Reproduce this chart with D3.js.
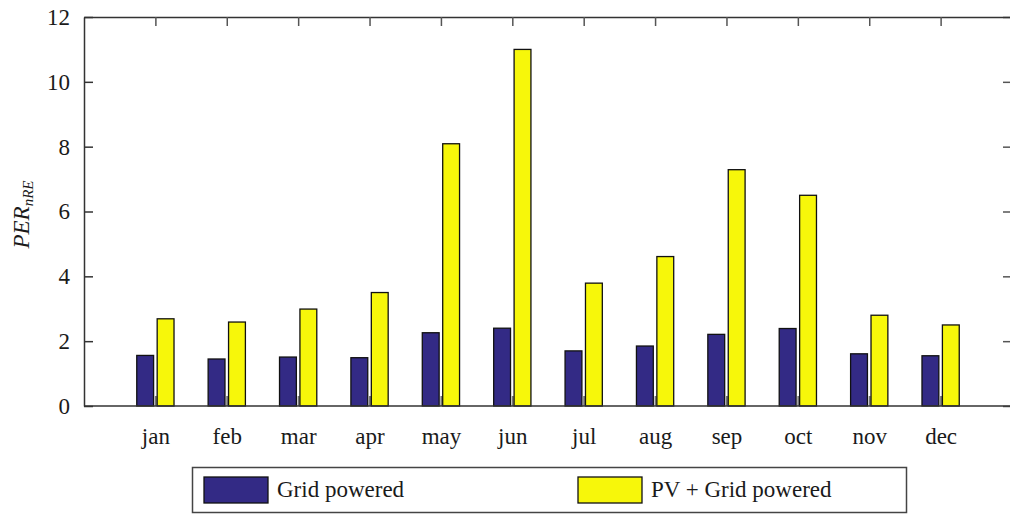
<!DOCTYPE html>
<html>
<head>
<meta charset="utf-8">
<script src="https://cdn.jsdelivr.net/npm/d3@7"></script>
<style>
  html, body { margin: 0; padding: 0; background: #fff; }
  svg { display: block; }
</style>
</head>
<body>
<svg id="chart" width="1010" height="516"></svg>
<script>
// Monthly primary energy ratio (non-renewable)
const months = ["jan", "feb", "mar", "apr", "may", "jun", "jul", "aug", "sep", "oct", "nov", "dec"];
const gridPowered = [1.56, 1.45, 1.51, 1.49, 2.26, 2.40, 1.70, 1.85, 2.21, 2.39, 1.61, 1.55];
const pvGridPowered = [2.69, 2.59, 2.99, 3.50, 8.09, 11.0, 3.79, 4.61, 7.29, 6.50, 2.80, 2.50];
const yTicks = [0, 2, 4, 6, 8, 10, 12];
const seriesNames = ["Grid powered", "PV + Grid powered"];
const seriesColors = ["#332a85", "#f7f70a"];

const FONT = "'Liberation Serif', 'Times New Roman', Times, serif";
const textColor = "#1a1a1a";

const svg = d3.select("#chart");

const plotLeft = 84, plotRight = 1012, plotTop = 17, plotBottom = 406;

// Categories sit at 1..12 on a 0..13 numeric axis
const x = d3.scaleLinear().domain([0, 13]).range([plotLeft, plotRight]);
const y = d3.scaleLinear().domain([0, 12]).range([plotBottom, plotTop]);

const barW = 0.236;   // width of one bar, in category units
const barOff = 0.143; // distance of each bar's centre from the category centre

const series = [gridPowered, pvGridPowered];

function styleText(sel, size) {
  sel.attr("font-family", FONT)
    .style("font-family", FONT)
    .style("font-size", size + "px")
    .attr("fill", textColor);
}

// Bottom axis ticks (inward, drawn first so the bars overlap them)
const bottomAxis = d3.axisBottom(x)
  .tickValues(d3.range(1, 13))
  .tickFormat((d) => months[d - 1])
  .tickSizeInner(-10)
  .tickSizeOuter(0)
  .tickPadding(22);
const gb = svg.append("g").attr("transform", `translate(0,${plotBottom})`).call(bottomAxis);
gb.attr("font-family", FONT);
gb.select(".domain").remove();
gb.selectAll(".tick line").attr("stroke", "#777").attr("stroke-width", 2);
gb.selectAll(".tick text").call(styleText, 23).attr("dy", "0.71em");

// Bars
series.forEach((vals, si) => {
  svg.append("g")
    .selectAll("rect")
    .data(vals)
    .join("rect")
    .attr("x", (d, i) => x(i + 1 + (si === 0 ? -barOff : barOff) - barW / 2))
    .attr("y", (d) => y(d))
    .attr("width", x(barW) - x(0))
    .attr("height", (d) => y(0) - y(d))
    .attr("fill", seriesColors[si])
    .attr("stroke", "#111")
    .attr("stroke-width", 1.3);
});

// Left axis with labels
const leftAxis = d3.axisLeft(y)
  .tickValues(yTicks)
  .tickSizeInner(-9)
  .tickSizeOuter(0)
  .tickPadding(14);
const gl = svg.append("g").attr("transform", `translate(${plotLeft},0)`).call(leftAxis);
gl.attr("font-family", FONT);
gl.select(".domain").attr("stroke", "#333").attr("stroke-width", 1.5);
gl.selectAll(".tick line").attr("stroke", "#333").attr("stroke-width", 1.5);
gl.selectAll(".tick text").call(styleText, 23);

// Right axis: ticks only, pointing inward
const rightAxis = d3.axisRight(y)
  .tickValues(yTicks)
  .tickSizeInner(-9)
  .tickSizeOuter(0)
  .tickFormat("");
const gr = svg.append("g").attr("transform", `translate(${plotRight},0)`).call(rightAxis);
gr.select(".domain").attr("stroke", "#333").attr("stroke-width", 1.5);
gr.selectAll(".tick line").attr("stroke", "#555").attr("stroke-width", 1.5);

// Top axis: ticks at each category, pointing inward
const topAxis = d3.axisTop(x)
  .tickValues(d3.range(1, 13))
  .tickSizeInner(-9)
  .tickSizeOuter(0)
  .tickFormat("");
const gt = svg.append("g").attr("transform", `translate(0,${plotTop})`).call(topAxis);
gt.select(".domain").attr("stroke", "#333").attr("stroke-width", 1.5);
gt.selectAll(".tick line").attr("stroke", "#555").attr("stroke-width", 1.5);

// Baseline
svg.append("line")
  .attr("x1", plotLeft).attr("x2", plotRight)
  .attr("y1", y(0)).attr("y2", y(0))
  .attr("stroke", "#333").attr("stroke-width", 1.5);

// Y axis title: PER with subscript nRE
const yTitle = svg.append("text")
  .attr("transform", `translate(29,${(plotTop + plotBottom) / 2 + 3}) rotate(-90)`)
  .attr("text-anchor", "middle")
  .call(styleText, 23)
  .style("font-style", "italic");
yTitle.append("tspan").text("PER");
yTitle.append("tspan").attr("dy", 4).style("font-size", "15px").text("nRE");

// Legend
const legend = svg.append("g");
legend.append("rect")
  .attr("x", 192.5).attr("y", 467.5)
  .attr("width", 714).attr("height", 45)
  .attr("fill", "#fff")
  .attr("stroke", "#444")
  .attr("stroke-width", 1.5);

const legendX = [204, 578];
seriesNames.forEach((name, i) => {
  legend.append("rect")
    .attr("x", legendX[i]).attr("y", 477)
    .attr("width", 64).attr("height", 26)
    .attr("fill", seriesColors[i])
    .attr("stroke", "#111")
    .attr("stroke-width", 1.3);
  legend.append("text")
    .attr("x", legendX[i] + 73)
    .attr("y", 497)
    .call(styleText, 23)
    .text(name);
});
</script>
</body>
</html>
